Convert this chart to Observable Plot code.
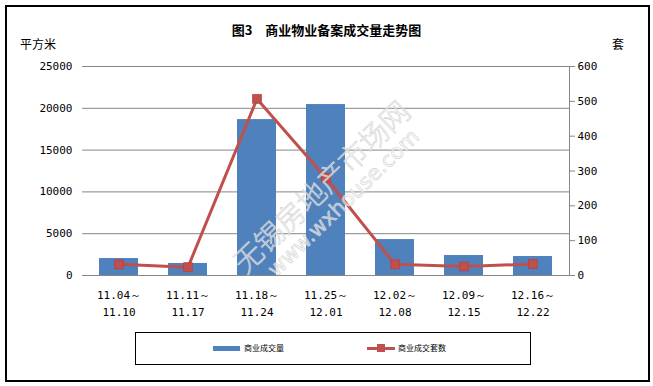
<!DOCTYPE html>
<html><head><meta charset="utf-8">
<script src="https://cdn.jsdelivr.net/npm/d3@7"></script>
<script src="https://cdn.jsdelivr.net/npm/@observablehq/plot@0.6"></script>
<style>
body{margin:0;background:#fff;}
#wrap{position:relative;width:653px;height:386px;overflow:hidden;font-family:"Noto Sans CJK SC",sans-serif;color:#000;}
#chart{position:absolute;left:0;top:0;}
.abs{position:absolute;white-space:nowrap;line-height:1;}
#frame{position:absolute;left:5px;top:5px;width:645px;height:377px;border:2px solid #000;box-sizing:border-box;}
#title{left:0;width:653px;top:23px;text-align:center;font-weight:bold;font-size:13px;}
#lunit{left:20px;top:38px;font-size:12px;}
#runit{left:612px;top:38px;font-size:12px;}
#legend{position:absolute;left:135px;top:332px;width:396px;height:33px;border:1.5px solid #000;box-sizing:border-box;}
.lt{font-size:8px;top:344px;}
.wm{position:absolute;white-space:nowrap;color:rgba(255,255,255,0.6);-webkit-text-stroke:0.6px #cfcfcf;transform-origin:center center;pointer-events:none;}
</style>
</head><body>
<div id="wrap">
  <div id="frame"></div>
  <div id="chart"></div>
  <div id="title" class="abs">图3　商业物业备案成交量走势图</div>
  <div id="lunit" class="abs">平方米</div>
  <div id="runit" class="abs">套</div>
  <div id="legend"></div>
  <div class="abs" style="left:213px;top:346px;width:27px;height:5px;background:#4F81BD"></div>
  <div id="lt1" class="abs lt" style="left:244px;">商业成交量</div>
  <div class="abs" style="left:367px;top:347px;width:28px;height:3px;background:#C0504D"></div>
  <div class="abs" style="left:377px;top:344px;width:8px;height:8px;background:#C0504D"></div>
  <div id="lt2" class="abs lt" style="left:398px;">商业成交套数</div>
  <div class="wm" id="wm1" style="font-size:29px;font-family:'Noto Sans CJK SC';font-weight:300;">无锡房地产市场网</div>
  <div class="wm" id="wm2" style="font-size:21px;font-family:'DejaVu Sans';">www.wxhouse.com</div>
</div>
<script>
const weeks = ["11.04～\n11.10","11.11～\n11.17","11.18～\n11.24","11.25～\n12.01","12.02～\n12.08","12.09～\n12.15","12.16～\n12.22"];
const area  = [2030, 1440, 18650, 20450, 4300, 2390, 2270];   // 商业成交量 (平方米)
const units = [32, 24, 507, 280, 32, 26, 33];                 // 商业成交套数 (套)
const leftTicks  = [0, 5000, 10000, 15000, 20000, 25000];
const rightTicks = [0, 100, 200, 300, 400, 500, 600];
const leftMax = 25000, rightMax = 600;
const K = leftMax / rightMax;

const data = weeks.map((w, i) => ({w, area: area[i], units: units[i], u2: units[i] * K}));
const tickFont = "'DejaVu Sans Mono', monospace";

const chart = Plot.plot({
  width: 653, height: 386,
  marginLeft: 82, marginRight: 84, marginTop: 66, marginBottom: 111,
  x: {domain: weeks, paddingInner: 0.44, paddingOuter: 0.22, axis: null},
  y: {domain: [0, leftMax], axis: null},
  style: {background: "transparent", fontFamily: tickFont, fontSize: "11px", overflow: "visible"},
  marks: [
    Plot.gridY(leftTicks, {stroke: "#868686", strokeOpacity: 1}),
    Plot.frame({anchor: "right", stroke: "#868686"}),
    Plot.ruleY([0], {stroke: "#868686"}),
    Plot.axisY(leftTicks, {anchor: "left", tickSize: 0, tickPadding: 10, tickFormat: d => String(d), label: null, fontFamily: tickFont}),
    Plot.axisY(rightTicks.map(v => v * K), {anchor: "right", tickSize: 5, tickPadding: 3, stroke: "#868686", tickFormat: d => String(Math.round(d / K)), label: null, fontFamily: tickFont}),
    Plot.axisX({tickSize: 0, tickPadding: 12, lineHeight: 1.5, label: null, fontFamily: tickFont}),
    Plot.barY(data, {x: "w", y: "area", fill: "#4F81BD"}),
    Plot.line(data, {x: "w", y: "u2", stroke: "#C0504D", strokeWidth: 3}),
    Plot.dot(data, {x: "w", y: "u2", symbol: "square", r: 5, fill: "#C0504D", stroke: "#B5413E", strokeWidth: 0.8})
  ]
});
document.getElementById("chart").appendChild(chart);

function placeWM(id, cx, cy, deg) {
  const el = document.getElementById(id);
  const w = el.offsetWidth, h = el.offsetHeight;
  el.style.left = (cx - w / 2) + "px";
  el.style.top = (cy - h / 2) + "px";
  el.style.transform = `rotate(${deg}deg)`;
}
placeWM("wm1", 320, 185, -44);
placeWM("wm2", 343, 203, -44);
</script>
</body></html>
